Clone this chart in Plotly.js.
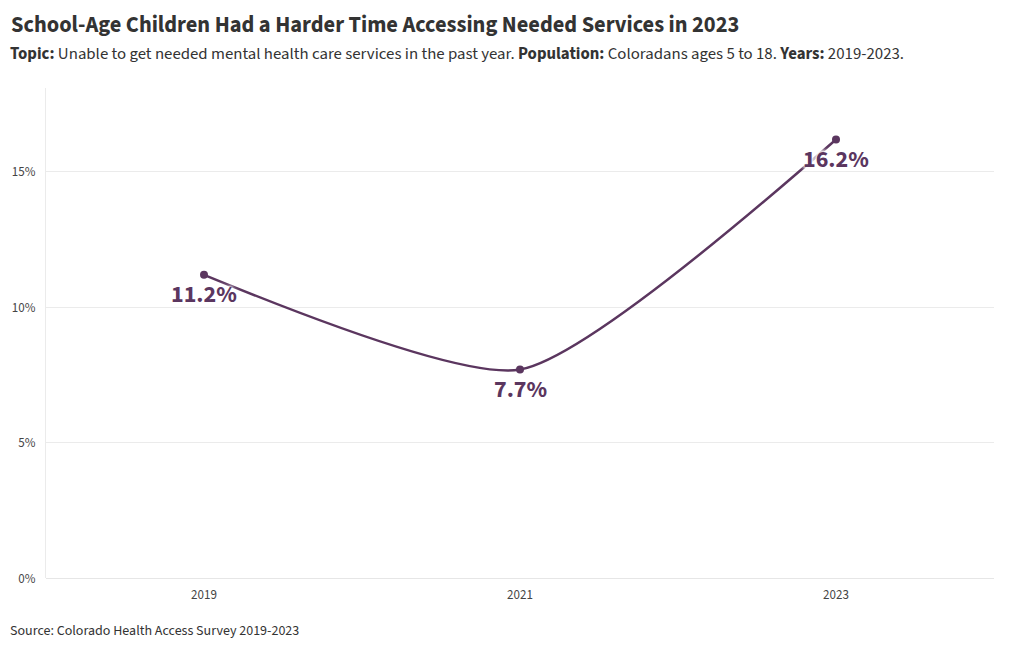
<!DOCTYPE html>
<html>
<head>
<meta charset="utf-8">
<script src="https://cdn.plot.ly/plotly-3.0.1.min.js"></script>
<style>html,body{margin:0;padding:0;background:#fff;}#chart{width:1020px;height:650px;}</style>
</head>
<body>
<div id="chart"></div>
<script>
const years = [2019, 2021, 2023];
const values = [11.2, 7.7, 16.2];
const labels = ["11.2%", "7.7%", "16.2%"];
const yTicks = [0, 5, 10, 15];
const yTickText = ["0%", "5%", "10%", "15%"];

const FONT = "'Source Sans Pro', 'Source Sans 3', Lato, sans-serif";
const PURPLE = "#5b365f";
const PLOT_TOP = 88, PLOT_BOTTOM = 578, PLOT_LEFT = 46, PLOT_W = 948;
const PLOT_H = PLOT_BOTTOM - PLOT_TOP;
const py = p => (PLOT_BOTTOM - p) / PLOT_H;
const px = p => (p - PLOT_LEFT) / PLOT_W;

const trace = {
  x: years, y: values, type: "scatter", mode: "lines+markers",
  line: {color: PURPLE, width: 2.5, shape: "spline", smoothing: 0.6},
  marker: {color: PURPLE, size: 8},
  hoverinfo: "skip"
};

const HALO = "white 0 0 3px, white 0 0 3px, white 0 0 4px, white 0 0 5px, white 0 0 6px";
const annotations = years.map((yr, i) => ({
  x: yr, y: values[i], xref: "x", yref: "y", text: labels[i],
  showarrow: false, yshift: -20,
  borderpad: 0,
  font: {family: FONT, size: 24, color: PURPLE, weight: 700, shadow: HALO}
}));

annotations.push({
  xref: "paper", yref: "paper", x: px(8), y: py(54),
  xanchor: "left", yanchor: "middle", showarrow: false, align: "left",
  text: "<b>Topic:</b> Unable to get needed mental health care services in the past year. <b>Population:</b> Coloradans ages 5 to 18. <b>Years:</b> 2019-2023.",
  font: {family: FONT, size: 16.8, color: "#333333"}
});
annotations.push({
  xref: "paper", yref: "paper", x: px(8), y: py(631),
  xanchor: "left", yanchor: "middle", showarrow: false, align: "left",
  text: "Source: Colorado Health Access Survey 2019-2023",
  font: {family: FONT, size: 14, color: "#333333"}
});

const layout = {
  width: 1020, height: 650,
  margin: {l: 46, r: 26, t: 88, b: 72},
  paper_bgcolor: "#ffffff", plot_bgcolor: "#ffffff",
  font: {family: FONT, color: "#444444"},
  showlegend: false,
  title: {
    text: "<b>School-Age Children Had a Harder Time Accessing Needed Services in 2023</b>",
    x: 11 / 1020, xanchor: "left", xref: "container",
    y: 1 - 24 / 650, yanchor: "middle", yref: "container",
    font: {family: FONT, size: 22.4, color: "#333333"}
  },
  xaxis: {
    range: [2018, 2024], tickvals: years, ticktext: years.map(String),
    showgrid: false, zeroline: false, showline: false,
    tickfont: {family: FONT, size: 13, color: "#444444"},
    ticks: "outside", ticklen: 4, tickcolor: "rgba(0,0,0,0)"
  },
  yaxis: {
    range: [0, 18.1], tickvals: yTicks, ticktext: yTickText,
    showgrid: true, gridcolor: "#ebebeb", gridwidth: 1,
    zeroline: true, zerolinecolor: "#e6e6e6", zerolinewidth: 1,
    showline: true, linecolor: "#ebebeb", linewidth: 1,
    tickfont: {family: FONT, size: 13, color: "#444444"},
    ticks: "outside", ticklen: 7, tickcolor: "rgba(0,0,0,0)"
  },
  annotations: annotations
};

Plotly.newPlot("chart", [trace], layout, {displayModeBar: false, staticPlot: true});
</script>
</body>
</html>
